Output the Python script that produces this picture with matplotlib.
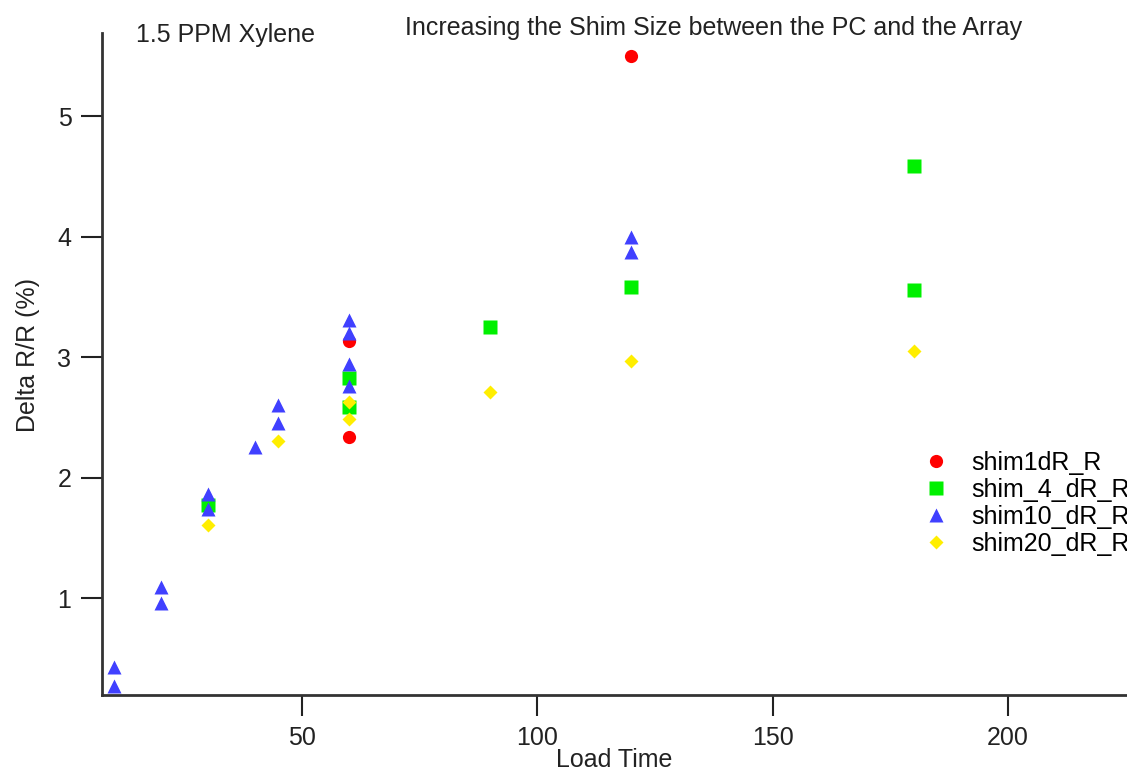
import matplotlib.pyplot as plt

plt.rcParams["font.family"] = ["Liberation Sans", "DejaVu Sans"]

# Data
shim1_x = [60, 60, 120]
shim1_y = [3.13, 2.34, 5.50]

shim4_x = [30, 60, 60, 90, 120, 180, 180]
shim4_y = [1.77, 2.83, 2.59, 3.25, 3.58, 4.59, 3.56]

shim10_x = [10, 10, 20, 20, 30, 30, 40, 45, 45, 60, 60, 60, 60, 120, 120]
shim10_y = [0.43, 0.27, 1.09, 0.96, 1.86, 1.74, 2.25, 2.60, 2.45, 3.31, 3.20, 2.94, 2.76, 4.00, 3.87]

shim20_x = [30, 45, 60, 60, 90, 120, 180]
shim20_y = [1.61, 2.30, 2.63, 2.49, 2.71, 2.97, 3.05]

labels = ["shim1dR_R", "shim_4_dR_R", "shim10_dR_R", "shim20_dR_R"]
xticks = [50, 100, 150, 200]
yticks = [1, 2, 3, 4, 5]

fig = plt.figure(figsize=(11.27, 7.71), dpi=100)
ax = fig.add_axes([0.0905, 0.0986, 0.9095, 0.8584])

ax.plot(shim1_x, shim1_y, 'o', color='#ff0000', ms=9.5, mec='none', label=labels[0])
ax.plot(shim4_x, shim4_y, 's', color='#00f000', ms=10, mec='none', label=labels[1])
ax.plot(shim10_x, shim10_y, '^', color='#4040ff', ms=10.5, mec='none', label=labels[2])
ax.plot(shim20_x, shim20_y, 'D', color='#ffee00', ms=6.8, mec='none', label=labels[3])

ax.set_xlim(7.5, 225.3)
ax.set_ylim(0.195, 5.69)
ax.set_xticks(xticks)
ax.set_yticks(yticks)
ax.tick_params(direction='out', length=15, width=1.5, labelsize=18, colors='#222222', pad=7)

for s in ['top', 'right']:
    ax.spines[s].set_visible(False)
for s in ['left', 'bottom']:
    ax.spines[s].set_linewidth(2)
    ax.spines[s].set_color('#333333')

ax.set_xlabel('Load Time', fontsize=18, color='#222222')
ax.xaxis.set_label_coords(0.5, -0.08)
fig.text(0.025, 0.54, 'Delta R/R (%)', rotation=90, fontsize=18, color='#222222',
         ha='center', va='center')

fig.text(0.121, 0.954, '1.5 PPM Xylene', fontsize=18, color='#222222', va='center')
fig.text(0.633, 0.964, 'Increasing the Shim Size between the PC and the Array',
         fontsize=18, color='#222222', ha='center', va='center')

leg = ax.legend(loc='upper left', bbox_to_anchor=(0.799, 0.369), frameon=False,
                fontsize=18, handletextpad=0.8, labelspacing=0.12, borderpad=0,
                handlelength=1.2, borderaxespad=0)

fig.savefig('out.png', dpi=100)
